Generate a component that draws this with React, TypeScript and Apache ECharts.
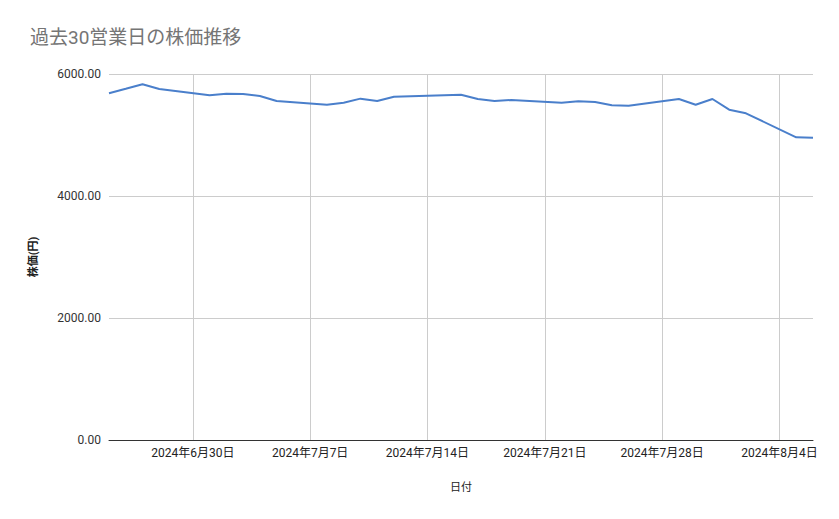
import React, { useEffect, useRef } from 'react';
import * as echarts from 'echarts';

// 営業日（7/15 は海の日）
const dates = [
  '2024-06-25', '2024-06-26', '2024-06-27', '2024-06-28',
  '2024-07-01', '2024-07-02', '2024-07-03', '2024-07-04', '2024-07-05',
  '2024-07-08', '2024-07-09', '2024-07-10', '2024-07-11', '2024-07-12',
  '2024-07-16', '2024-07-17', '2024-07-18', '2024-07-19',
  '2024-07-22', '2024-07-23', '2024-07-24', '2024-07-25', '2024-07-26',
  '2024-07-29', '2024-07-30', '2024-07-31', '2024-08-01', '2024-08-02',
  '2024-08-05', '2024-08-06'
];

const prices = [
  5684, 5757, 5831, 5754,
  5650, 5677, 5672, 5639, 5557,
  5497, 5530, 5596, 5557, 5628,
  5661, 5590, 5557, 5574,
  5530, 5552, 5541, 5487, 5481,
  5590, 5497, 5590, 5415, 5355,
  4962, 4956
];

// 週ごとの目盛り（日曜日）
const weekTicks = ['2024-06-30', '2024-07-07', '2024-07-14', '2024-07-21', '2024-07-28', '2024-08-04'];

const FONT = "Roboto, 'Noto Sans CJK JP', sans-serif";

const App: React.FC = () => {
  const chartRef = useRef<HTMLDivElement>(null);

  useEffect(() => {
    if (!chartRef.current) return;
    const chart = echarts.init(chartRef.current, undefined, { renderer: 'svg' });

    const toTime = (s: string) => {
      const [y, m, d] = s.split('-').map(Number);
      return new Date(y, m - 1, d).getTime();
    };
    const tickTimes = weekTicks.map(toTime);

    chart.setOption({
      animation: false,
      textStyle: { fontFamily: FONT },
      title: {
        text: '過去30営業日の株価推移',
        left: 25,
        top: 23,
        textStyle: { fontSize: 19, fontWeight: 'normal', color: '#757575', fontFamily: FONT }
      },
      grid: { left: 109, right: 26, top: 74, bottom: 79 },
      xAxis: {
        type: 'value',
        min: toTime(dates[0]),
        max: toTime(dates[dates.length - 1]),
        name: '日付',
        nameLocation: 'middle',
        nameGap: 42,
        nameTextStyle: { fontSize: 11, color: '#222' },
        axisLine: { lineStyle: { color: '#333', width: 1 } },
        axisTick: { show: false, customValues: tickTimes },
        axisLabel: {
          customValues: tickTimes,
          fontSize: 12,
          color: '#222',
          margin: 7,
          formatter: (v: number) => {
            const d = new Date(v);
            return `${d.getFullYear()}年${d.getMonth() + 1}月${d.getDate()}日`;
          }
        },
        splitLine: { show: true, lineStyle: { color: '#cccccc' } }
      },
      yAxis: {
        type: 'value',
        min: 0,
        max: 6000,
        interval: 2000,
        name: '株価(円)',
        nameLocation: 'middle',
        nameGap: 70,
        nameTextStyle: { fontSize: 11, color: '#222', fontWeight: 'bold' },
        axisLine: { show: false },
        axisTick: { show: false },
        axisLabel: {
          fontSize: 12,
          color: '#333',
          margin: 8,
          formatter: (v: number) => v.toFixed(2)
        },
        splitLine: { lineStyle: { color: '#cccccc' } }
      },
      series: [
        {
          type: 'line',
          data: dates.map((d, i) => [toTime(d), prices[i]]),
          showSymbol: false,
          lineStyle: { color: '#4a7fcb', width: 2 },
          itemStyle: { color: '#4a7fcb' }
        }
      ]
    });

    return () => {
      chart.dispose();
    };
  }, []);

  return (
    <div
      ref={chartRef}
      style={{ position: 'fixed', left: 0, top: 0, width: 839, height: 519, background: '#fff' }}
    />
  );
};

export default App;
